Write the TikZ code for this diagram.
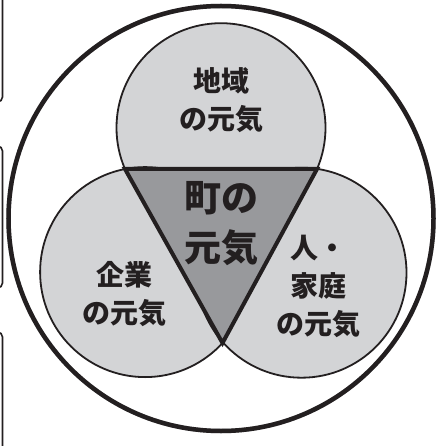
\documentclass[tikz,border=0pt]{standalone}
\usepackage{fontspec}
\newfontfamily\cjk{Noto Sans CJK JP}
\definecolor{ink}{HTML}{231F20}
\definecolor{lite}{HTML}{D3D4D6}
\definecolor{mid}{HTML}{98999C}
\definecolor{shade}{HTML}{C4C5C7}
\tikzset{
  frag/.style={draw=ink, line width=1.6pt, rounded corners=5pt},
  outerring/.style={draw=ink, line width=4.5pt},
  outershadow/.style={draw=shade, line width=4.5pt},
  disc/.style={draw=ink, fill=lite, line width=1.8pt},
  discshadow/.style={fill=shade},
  tri/.style={draw=ink, fill=mid, line width=4pt, line join=miter},
  lbl/.style={font=\cjk\bfseries\fontsize{28}{38}\selectfont, text=ink, align=center, inner sep=0pt},
  biglbl/.style={font=\cjk\bfseries\fontsize{37}{50}\selectfont, text=ink, align=center, inner sep=0pt}
}
\begin{document}
\begin{tikzpicture}[x=1pt,y=-1pt]
\useasboundingbox (0,0) rectangle (438,446);
\fill[white] (0,0) rectangle (438,446);
\clip (0,0) rectangle (438,446);
% fragments of neighbouring boxes at the left edge
\draw[frag] (2.5,-6) -- (2.5,102) -- (-8,102);
\draw[frag] (-8,146) -- (2.5,146) -- (2.5,288) -- (-8,288);
\draw[frag] (-8,332) -- (2.5,332) -- (2.5,452);
% outer ring
\coordinate (oc) at (221,218.5);
\draw[outershadow, shift={(2.5,3.5)}] (oc) circle[radius=212.5pt];
\draw[outerring] (oc) circle[radius=212.5pt];
% circle centres
\coordinate (ct) at (221,127.7);
\coordinate (cl) at (145.1,272.1);
\coordinate (cr) at (301.5,272.7);
% shadows
\fill[discshadow, shift={(3.5,4)}] (ct) circle[radius=104.5pt];
\fill[discshadow, shift={(3.5,4)}] (cl) circle[radius=105pt];
\fill[discshadow, shift={(3.5,4)}] (cr) circle[radius=105pt];
% circles
\path[disc] (ct) circle[radius=104.5pt];
\path[disc] (cl) circle[radius=105pt];
\path[disc] (cr) circle[radius=105pt];
% triangle
\coordinate (tl) at (125,169);
\coordinate (tr) at (317,169);
\coordinate (tb) at (222.5,343);
\path[tri] (tl) -- (tr) -- (tb) -- cycle;
% labels
\node[lbl] (top) at (221.5,100) {地域\\の元気};
\node[lbl] (left) at (124,294) {企業\\の元気};
\node[lbl] (right) at (318,286) {人・\\家庭\\の元気};
\node[biglbl] (mid) at (221,223.5) {町の\\元気};
\end{tikzpicture}
\end{document}
